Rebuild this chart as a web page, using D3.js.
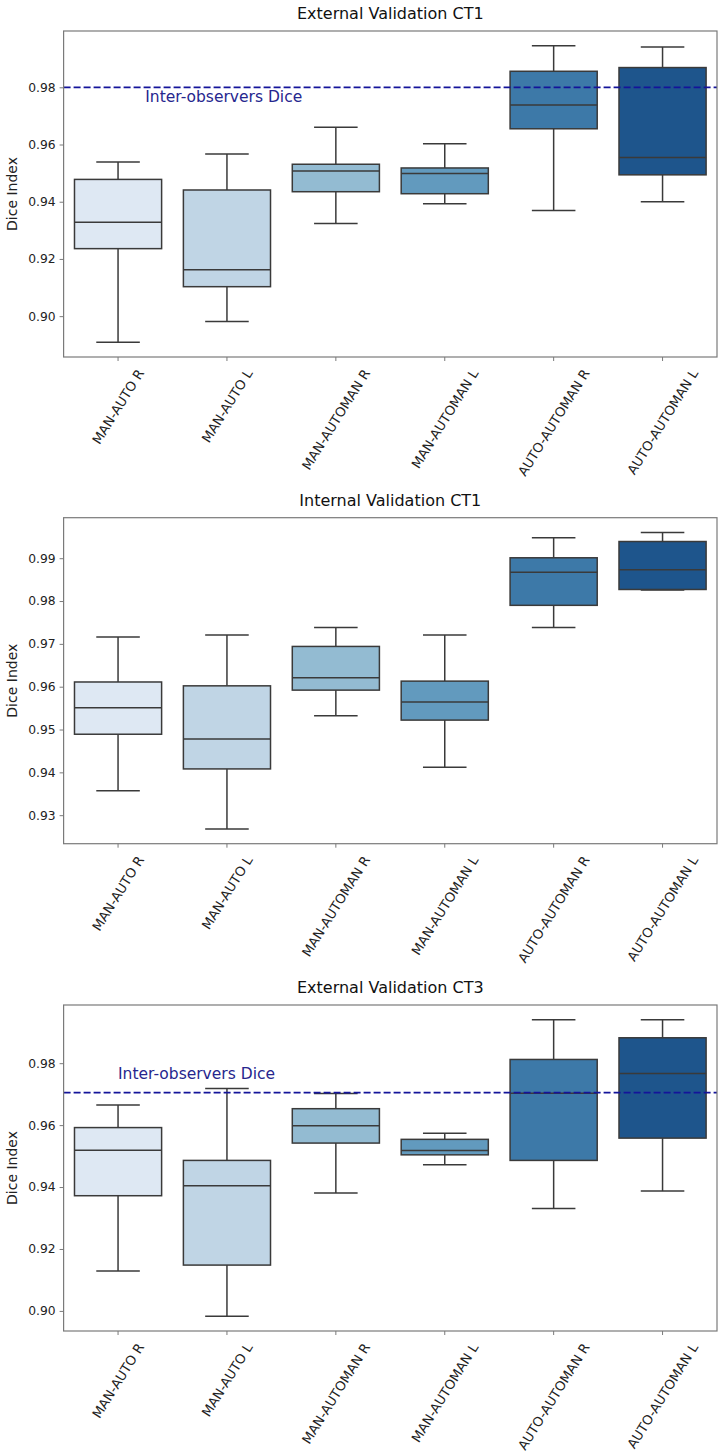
<!DOCTYPE html>
<html>
<head>
<meta charset="utf-8">
<script src="https://cdn.jsdelivr.net/npm/d3@7"></script>
<style>
  html, body { margin: 0; padding: 0; background: #fff; }
  text { font-family: "DejaVu Sans", sans-serif; }
</style>
</head>
<body>
<svg id="chart" width="721" height="1456"></svg>
<script>
// ---------------- DATA ----------------
const categories = ["MAN-AUTO R", "MAN-AUTO L", "MAN-AUTOMAN R", "MAN-AUTOMAN L", "AUTO-AUTOMAN R", "AUTO-AUTOMAN L"];
const panelTitles = ["External Validation CT1", "Internal Validation CT1", "External Validation CT3"];
const boxColors = ["#dee8f3", "#c0d5e5", "#93bbd2", "#629abe", "#3d79a8", "#1e558c"];

// External Validation CT1
const ext1Min = [0.8909, 0.8981, 0.9324, 0.9393, 0.9369, 0.9400];
const ext1Q1  = [0.9236, 0.9103, 0.9435, 0.9428, 0.9655, 0.9494];
const ext1Med = [0.9328, 0.9162, 0.9507, 0.9499, 0.9738, 0.9555];
const ext1Q3  = [0.9478, 0.9441, 0.9531, 0.9518, 0.9856, 0.9869];
const ext1Max = [0.9539, 0.9567, 0.9660, 0.9603, 0.9945, 0.9941];
const ext1Ticks = [0.90, 0.92, 0.94, 0.96, 0.98];
const ext1Ref = 0.98;

// Internal Validation CT1
const int1Min = [0.9357, 0.9268, 0.9532, 0.9412, 0.9738, 0.9826];
const int1Q1  = [0.9489, 0.9408, 0.9592, 0.9522, 0.9790, 0.9827];
const int1Med = [0.9551, 0.9478, 0.9621, 0.9564, 0.9867, 0.9873];
const int1Q3  = [0.9611, 0.9602, 0.9694, 0.9613, 0.9901, 0.9939];
const int1Max = [0.9716, 0.9721, 0.9738, 0.9721, 0.9948, 0.9960];
const int1Ticks = [0.93, 0.94, 0.95, 0.96, 0.97, 0.98, 0.99];

// External Validation CT3
const ext3Min = [0.9129, 0.8983, 0.9381, 0.9472, 0.9331, 0.9387];
const ext3Q1  = [0.9372, 0.9148, 0.9542, 0.9504, 0.9486, 0.9558];
const ext3Med = [0.9519, 0.9404, 0.9598, 0.9518, 0.9703, 0.9767];
const ext3Q3  = [0.9592, 0.9486, 0.9653, 0.9554, 0.9812, 0.9882];
const ext3Max = [0.9665, 0.9718, 0.9702, 0.9574, 0.9940, 0.9940];
const ext3Ticks = [0.90, 0.92, 0.94, 0.96, 0.98];
const ext3Ref = 0.9705;

const refLabel = "Inter-observers Dice";
const yLabel = "Dice Index";

// ---------------- LAYOUT ----------------
const panels = [
  { title: panelTitles[0], min: ext1Min, q1: ext1Q1, med: ext1Med, q3: ext1Q3, max: ext1Max, ticks: ext1Ticks, ref: ext1Ref, refTextOffset: 0.25, refTextDy: 15, top: 31 },
  { title: panelTitles[1], min: int1Min, q1: int1Q1, med: int1Med, q3: int1Q3, max: int1Max, ticks: int1Ticks, ref: null, top: 517.7 },
  { title: panelTitles[2], min: ext3Min, q1: ext3Q1, med: ext3Med, q3: ext3Q3, max: ext3Max, ticks: ext3Ticks, ref: ext3Ref, refTextOffset: 0.0, refTextDy: -14, top: 1005 }
];
const left = 63.6, right = 717, height = 326;
const lineColor = "#3a3a3a";
const frameColor = "#7a7a7a";
const refColor = "#14149a";
const refTextColor = "#26268e";
const labelAngle = 58;

const svg = d3.select("#chart");

panels.forEach(p => {
  const top = p.top, bottom = top + height;
  const g = svg.append("g");

  const lo = d3.min(p.min), hi = d3.max(p.max);
  const pad = (hi - lo) * 0.05;
  const y = d3.scaleLinear().domain([lo - pad, hi + pad]).range([bottom, top]);
  const x = d3.scaleBand().domain(categories).range([left, right]).paddingInner(0.2).paddingOuter(0.1);
  const bw = x.bandwidth();
  const cx = c => x(c) + bw / 2;

  categories.forEach((c, i) => {
    const xc = cx(c);
    g.append("line").attr("x1", xc).attr("x2", xc).attr("y1", y(p.q3[i])).attr("y2", y(p.max[i]))
      .attr("stroke", lineColor).attr("stroke-width", 1.5);
    g.append("line").attr("x1", xc).attr("x2", xc).attr("y1", y(p.q1[i])).attr("y2", y(p.min[i]))
      .attr("stroke", lineColor).attr("stroke-width", 1.5);
    [p.max[i], p.min[i]].forEach(v => {
      g.append("line").attr("x1", xc - bw / 4).attr("x2", xc + bw / 4).attr("y1", y(v)).attr("y2", y(v))
        .attr("stroke", lineColor).attr("stroke-width", 1.5);
    });
    g.append("rect").attr("x", x(c)).attr("width", bw)
      .attr("y", y(p.q3[i])).attr("height", Math.max(0.5, y(p.q1[i]) - y(p.q3[i])))
      .attr("fill", boxColors[i]).attr("stroke", lineColor).attr("stroke-width", 1.5);
    g.append("line").attr("x1", x(c)).attr("x2", x(c) + bw).attr("y1", y(p.med[i])).attr("y2", y(p.med[i]))
      .attr("stroke", lineColor).attr("stroke-width", 1.5);
  });

  if (p.ref !== null) {
    g.append("line").attr("x1", left).attr("x2", right).attr("y1", y(p.ref)).attr("y2", y(p.ref))
      .attr("stroke", refColor).attr("stroke-width", 1.8).attr("stroke-dasharray", "7,3");
    g.append("text").attr("x", cx(categories[0]) + p.refTextOffset * x.step())
      .attr("y", y(p.ref) + p.refTextDy)
      .attr("fill", refTextColor).attr("font-size", "15.5px").text(refLabel);
  }

  g.append("rect").attr("x", left).attr("y", top).attr("width", right - left).attr("height", height)
    .attr("fill", "none").attr("stroke", frameColor).attr("stroke-width", 1.2);

  const yAxis = d3.axisLeft(y).tickValues(p.ticks).tickFormat(d3.format(".2f")).tickSize(4).tickPadding(4);
  const ya = g.append("g").attr("transform", `translate(${left},0)`).call(yAxis);
  ya.select(".domain").remove();
  ya.selectAll(".tick line").attr("stroke", frameColor).attr("stroke-width", 1);
  ya.selectAll(".tick text").attr("font-size", "12.3px").attr("fill", "#222").style("font-family", "DejaVu Sans");

  const xAxis = d3.axisBottom(x).tickSize(4).tickFormat("");
  const xa = g.append("g").attr("transform", `translate(0,${bottom})`).call(xAxis);
  xa.select(".domain").remove();
  xa.selectAll(".tick line").attr("stroke", frameColor).attr("stroke-width", 1);

  const rad = labelAngle * Math.PI / 180;
  categories.forEach(c => {
    const t = g.append("text").attr("text-anchor", "middle").attr("dy", "0.36em")
      .attr("font-size", "13.2px").attr("fill", "#222").text(c);
    const L = t.node().getComputedTextLength();
    const h = 9.5;
    const half = (L * Math.sin(rad) + h * Math.cos(rad)) / 2;
    t.attr("transform", `translate(${cx(c)},${bottom + 11 + half}) rotate(${-labelAngle})`);
  });

  g.append("text").attr("x", (left + right) / 2).attr("y", top - 12).attr("text-anchor", "middle")
    .attr("font-size", "16px").attr("fill", "#111").text(p.title);

  g.append("text").attr("transform", `translate(17,${(top + bottom) / 2}) rotate(-90)`)
    .attr("text-anchor", "middle").attr("font-size", "14px").attr("fill", "#222").text(yLabel);
});
</script>
</body>
</html>
